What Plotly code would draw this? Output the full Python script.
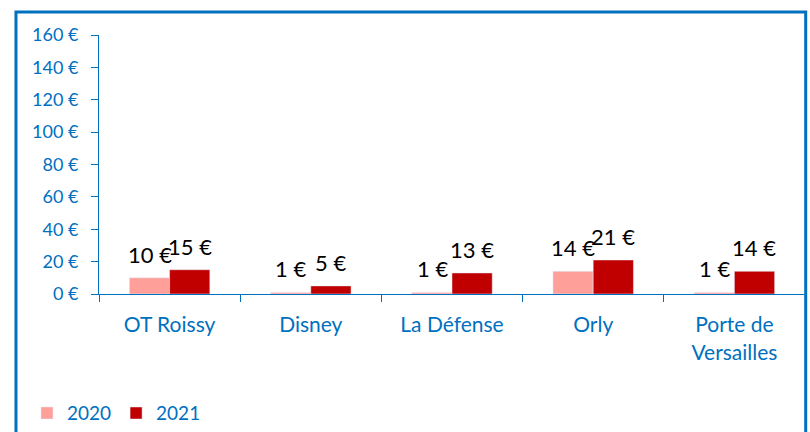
import plotly.graph_objects as go

sites = ["OT Roissy", "Disney", "La Défense", "Orly", "Porte de<br>Versailles"]
values_2020 = [10, 1, 1, 14, 1]
values_2021 = [15, 5, 13, 21, 14]

blue = "#0070C0"

fig = go.Figure()
fig.add_trace(go.Bar(x=sites, y=values_2020, name="2020", marker=dict(color="#FF9F9A")))
fig.add_trace(go.Bar(x=sites, y=values_2021, name="2021", marker=dict(color="#C00000")))

# value labels, nudged a little higher than plotly's outside text
for vals, shift in [(values_2020, -20), (values_2021, 20)]:
    for site, v in zip(sites, vals):
        fig.add_annotation(x=site, y=v, text=f"{v} €", showarrow=False,
                           xshift=shift, yshift=8, yanchor="bottom",
                           font=dict(color="black", size=22, family="Lato"))

fig.update_layout(
    width=810, height=432,
    margin=dict(l=99, r=5, t=35, b=138, autoexpand=False),
    paper_bgcolor="white", plot_bgcolor="white",
    font=dict(family="Lato", color=blue),
    barmode="group", bargap=0.43, bargroupgap=0,
    legend=dict(orientation="h", x=-0.102, y=-0.46, xanchor="left", yanchor="middle",
                font=dict(size=19, color=blue), itemwidth=30),
    shapes=[dict(type="rect", xref="paper", yref="paper",
                 x0=-0.1176, x1=1.001, y0=-0.6, y1=1.0888,
                 line=dict(color=blue, width=3))],
)
fig.update_yaxes(range=[0, 160], dtick=20, ticksuffix=" €", showgrid=False,
                 showline=True, linecolor=blue, linewidth=1,
                 ticks="outside", ticklen=7, tickcolor=blue, ticklabelstandoff=9,
                 tickfont=dict(size=18, color=blue), zeroline=False)
fig.update_xaxes(showline=True, linecolor=blue, linewidth=1,
                 ticks="outside", tickson="boundaries", ticklen=7, tickcolor=blue,
                 ticklabelstandoff=12,
                 tickfont=dict(size=21, color=blue))

# the page body has a default 8px margin; drop it so the figure sits at (0, 0)
fig.write_html("out.html", config={"displayModeBar": False},
               post_script="document.body.style.margin='0';")
